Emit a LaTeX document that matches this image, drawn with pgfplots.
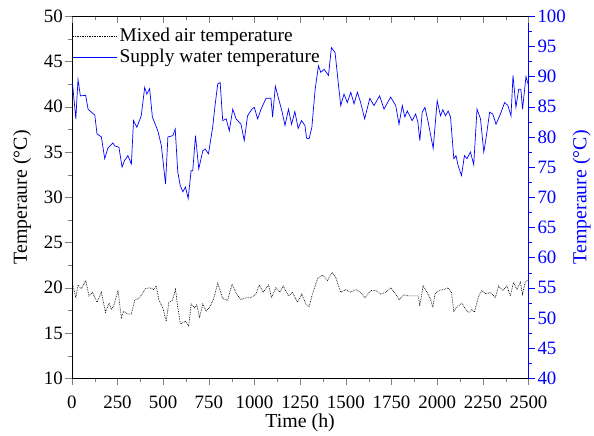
\documentclass[border=0pt]{standalone}
\usepackage{fontspec}
\setmainfont{Liberation Serif}
\usepackage{pgfplots}
\pgfplotsset{compat=1.18}
\definecolor{myblue}{RGB}{0,0,255}
\pgfplotsset{
  every axis/.append style={
    width=458bp, height=363bp, scale only axis,
    xmin=0, xmax=2500,
    /pgf/number format/assume math mode=true,
    /pgf/number format/set thousands separator={},
    tick label style={font=\fontsize{19}{21}\selectfont},
    label style={font=\fontsize{20}{22}\selectfont},
    major tick length=6.5bp, minor tick length=3.5bp,
  }
}
\begin{document}
\begin{tikzpicture}
\begin{axis}[
  axis x line*=bottom, axis y line*=left,
  tick align=outside,
  ymin=10, ymax=50,
  xtick={0,250,...,2500}, minor x tick num=1,
  ytick={10,15,...,50}, minor y tick num=1,
  xlabel={Time (h)}, ylabel={Temperaure (°C)},
  xticklabel style={yshift=-8bp},
  xlabel style={yshift=2bp},
  yticklabel style={xshift=1bp},
  ylabel style={yshift=6bp},
]
\addplot[black, densely dotted, line width=0.7pt] coordinates {
(0,20.2)(7,20.2)(22,18.9)(34,20.3)(53,19.9)(76,20.8)(94,19.1)(113,19.5)(138,18.4)(162,19.5)
(184,17.3)(204,18.3)(217,17.6)(229,18.0)(253,19.7)(271,16.7)(284,17.4)(307,17.1)(326,17.1)
(344,18.6)(371,18.9)(404,19.9)(426,20.0)(448,19.8)(462,20.2)(477,18.6)(498,17.8)(517,16.3)
(531,18.4)(550,18.6)(568,19.8)(580,17.8)(595,16.0)(622,16.3)(640,15.8)(653,18.2)(671,17.8)
(684,18.1)(699,16.7)(717,18.2)(735,17.4)(753,17.8)(775,18.7)(799,20.5)(826,18.8)(853,18.6)
(877,20.4)(902,19.3)(926,18.7)(954,18.9)(981,18.9)(1008,19.3)(1026,20.3)(1048,19.5)(1077,20.3)
(1093,18.9)(1117,20.0)(1139,19.5)(1157,20.2)(1186,19.1)(1208,19.5)(1235,18.4)(1259,19.3)
(1281,18.2)(1299,17.9)(1317,19.3)(1345,21.0)(1372,21.4)(1399,20.8)(1426,21.7)(1445,21.1)
(1472,19.5)(1500,19.8)(1527,19.5)(1554,19.8)(1581,19.5)(1605,18.9)(1636,19.7)(1663,19.7)
(1691,19.3)(1718,19.5)(1745,20.0)(1773,19.3)(1791,18.7)(1818,19.2)(1845,19.1)(1872,19.1)
(1896,19.1)(1905,18.0)(1923,20.2)(1945,19.5)(1964,18.7)(1976,17.8)(1987,19.3)(2009,19.7)
(2036,19.8)(2060,20.0)(2078,19.5)(2091,17.4)(2114,18.0)(2136,18.3)(2155,17.6)(2173,17.3)
(2191,17.6)(2204,17.3)(2227,19.1)(2245,19.7)(2267,19.3)(2291,19.5)(2318,18.9)(2336,20.2)
(2358,19.7)(2382,20.2)(2400,19.1)(2418,20.6)(2436,19.8)(2455,20.6)(2467,19.3)(2482,20.6)
(2496,20.9)
};
\end{axis}
\begin{axis}[
  axis x line*=top, axis y line*=right,
  tick align=outside,
  ymin=40, ymax=100,
  xtick=\empty,
  ytick={40,45,...,100}, minor y tick num=1,
  ylabel={Temperaure (°C)},
  y axis line style={myblue},
  x axis line style={draw=none},
  ytick style={myblue},
  yticklabel style={font=\fontsize{19}{21}\selectfont\color{myblue}, xshift=-1bp},
  ylabel style={myblue, yshift=0bp},
  legend style={draw=none, fill=none, at={(0.0,0.975)}, anchor=north west,
    font=\fontsize{19.5}{21}\selectfont, row sep=2bp, inner sep=1bp},
  legend cell align=left,
]
\addlegendimage{legend image code/.code={\draw[black, densely dotted, line width=0.7pt] (0bp,0bp) -- (44bp,0bp);}}
\addlegendentry{Mixed air temperature}
\addplot[myblue, line width=0.7pt,
  legend image code/.code={\draw[draw=myblue, solid, line width=0.7pt] (0bp,0bp) -- (44bp,0bp);}] coordinates {
(0,88.8)(4,88.8)(22,83.0)(34,89.5)(47,86.8)(76,86.9)(89,84.6)(126,83.6)(138,80.5)(162,80.0)
(180,76.4)(198,78.2)(225,79.0)(235,78.5)(258,78.3)(275,75.0)(289,76.1)(307,76.9)(326,75.5)
(338,82.7)(356,81.6)(380,83.5)(399,88.2)(411,87.1)(426,88.0)(441,83.3)(471,81.0)(490,78.6)
(513,72.2)(526,80.0)(553,80.2)(566,81.3)(580,74.2)(593,72.0)(608,70.9)(622,71.7)(637,69.8)
(653,74.4)(662,74.4)(677,80.2)(695,74.7)(717,77.7)(730,78.0)(748,77.2)(771,81.6)(784,85.2)
(799,88.8)(812,89.0)(826,82.7)(845,83.0)(862,81.0)(881,84.6)(899,83.0)(926,82.1)(944,79.4)
(962,83.5)(986,84.6)(999,84.9)(1017,83.0)(1036,84.6)(1063,86.4)(1090,86.4)(1099,83.3)
(1114,88.4)(1135,86.0)(1150,84.3)(1167,81.9)(1186,84.6)(1203,82.1)(1221,84.2)(1239,81.4)
(1257,82.7)(1276,81.9)(1285,79.8)(1299,79.7)(1314,81.6)(1332,87.9)(1350,91.8)(1363,90.7)
(1381,91.2)(1405,90.2)(1421,94.8)(1441,94.0)(1459,88.8)(1472,85.2)(1490,87.1)(1508,85.7)
(1527,87.4)(1545,85.5)(1563,87.4)(1581,85.7)(1603,83.0)(1631,86.4)(1654,85.2)(1685,86.8)
(1709,84.6)(1745,86.6)(1773,85.2)(1791,82.1)(1809,85.2)(1823,83.3)(1836,84.3)(1863,82.7)
(1882,83.8)(1894,82.5)(1905,79.4)(1918,84.1)(1933,84.9)(1951,82.4)(1978,78.1)(2000,86.0)
(2018,83.5)(2031,84.5)(2045,83.5)(2060,84.3)(2073,83.3)(2091,76.4)(2103,76.9)(2114,75.3)
(2133,73.6)(2149,76.9)(2163,76.4)(2182,77.5)(2200,75.4)(2218,84.6)(2237,83.0)(2255,77.5)
(2267,79.7)(2287,84.1)(2304,83.8)(2322,82.1)(2346,83.8)(2369,85.7)(2387,85.2)(2404,83.5)
(2415,90.2)(2431,84.9)(2446,87.9)(2458,87.9)(2467,84.6)(2486,90.0)(2500,88.5)
};
\addlegendentry{Supply water temperature}
\end{axis}
\begin{axis}[
  axis x line*=top, axis y line=none,
  tick align=inside,
  ymin=0, ymax=1,
  xtick={0,250,...,2500}, minor x tick num=1,
  xticklabels={},
]
\end{axis}
\path ([shift={(-72bp,-50.7bp)}]current axis.south west) rectangle ([shift={(64bp,16.3bp)}]current axis.north east);
\end{tikzpicture}
\end{document}
